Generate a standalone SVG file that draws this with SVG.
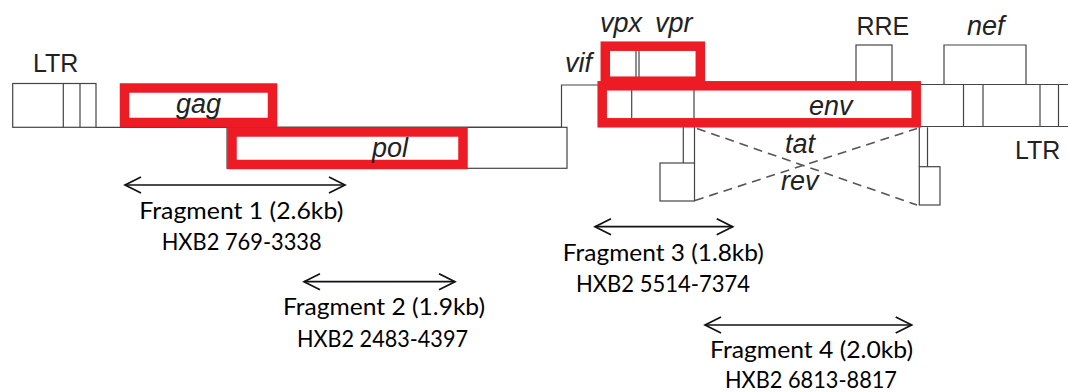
<svg xmlns="http://www.w3.org/2000/svg" width="1068" height="392" viewBox="0 0 1068 392">
  <style>
    .ln { fill: none; stroke: #444; stroke-width: 1.2; }
    .red { fill: none; stroke: #ED1C24; stroke-width: 9.5; }
    .gene { font-family: "Liberation Sans", Arial, sans-serif; font-size: 27px; font-style: italic; fill: #222; }
    .lbl { font-family: "Liberation Sans", Arial, sans-serif; font-size: 25px; fill: #222; }
    .frag { font-family: Lato, "Open Sans", sans-serif; font-size: 23px; fill: #000; text-anchor: middle; }
    .dash { fill: none; stroke: #555; stroke-width: 1.6; stroke-dasharray: 9 6; }
    .arr { fill: none; stroke: #111; stroke-width: 1.7; marker-start: url(#chev); marker-end: url(#chev); }
  </style>
  <defs>
    <marker id="chev" markerUnits="userSpaceOnUse" markerWidth="22" markerHeight="22" refX="17" refY="9" orient="auto-start-reverse">
      <path d="M1,1 L17,9 L1,17" fill="none" stroke="#111" stroke-width="1.7"/>
    </marker>
  </defs>
  <rect width="1068" height="392" fill="#fff"/>

  <g id="genome-backbone">
    <path class="ln" d="M96,127.3 H561"/>
  </g>

  <g id="ltr5">
    <rect class="ln" x="12.7" y="83.5" width="83.3" height="43.8"/>
    <path class="ln" d="M63.3,83.5 V127.3 M80,83.5 V127.3"/>
    <text class="lbl" x="33" y="71.7">LTR</text>
  </g>

  <g id="pol">
    <rect class="ln" x="227" y="127.3" width="340" height="41"/>
    <rect class="red" x="232" y="132" width="231" height="32.5"/>
    <text class="gene" x="372" y="156.5">pol</text>
  </g>

  <g id="gag">
    <rect class="red" x="124.5" y="88" width="148" height="34.5"/>
    <text class="gene" x="176" y="113.3">gag</text>
  </g>

  <g id="vif">
    <path class="ln" d="M561.5,127.3 V85 H600"/>
    <text class="gene" x="565" y="71.7">vif</text>
  </g>

  <g id="vpx-vpr">
    <path class="ln" d="M636,50 V78 M639,50 V78"/>
    <rect class="red" x="605.3" y="46.2" width="95" height="35"/>
    <text class="gene" x="600" y="31.7">vpx</text>
    <text class="gene" x="655" y="31.7">vpr</text>
  </g>

  <g id="rre">
    <rect class="ln" x="856" y="45" width="36" height="37"/>
    <text class="lbl" x="856.5" y="35">RRE</text>
  </g>

  <g id="env">
    <path class="ln" d="M631.7,88 V122 M694,88 V122"/>
    <rect class="red" x="602.2" y="85.8" width="314" height="37"/>
    <text class="gene" x="809" y="115">env</text>
  </g>

  <g id="tat-rev-exon1">
    <path class="ln" d="M683.3,127.3 V163 M694.5,127.3 V163"/>
    <rect class="ln" x="660" y="163" width="34.5" height="38"/>
  </g>

  <g id="tat-rev-exon2">
    <path class="ln" d="M919.3,127.3 V166.7 M927.5,127.3 V166.7"/>
    <rect class="ln" x="919.3" y="166.7" width="20.7" height="38.3"/>
  </g>

  <g id="nef">
    <path class="ln" d="M944,84.5 V45 H1026 V84.5"/>
    <text class="gene" x="967" y="35">nef</text>
  </g>

  <g id="ltr3">
    <path class="ln" d="M920.7,84.5 H1068 M920.7,126.5 H1068 M963.5,84.5 V126.5 M983,84.5 V126.5 M1040,84.5 V126.5 M1058.5,84.5 V126.5"/>
    <text class="lbl" x="1015" y="159.3">LTR</text>
  </g>

  <g id="tat-rev-labels">
    <text class="gene" x="785" y="153.3">tat</text>
    <text class="gene" x="781" y="190">rev</text>
  </g>

  <g id="connectors">
    <path class="dash" d="M697,128.5 L917,205"/>
    <path class="dash" d="M695,200.5 L917,128.5"/>
    <path class="arr" d="M125,185 H345"/>
    <path class="arr" d="M304,281.7 H455"/>
    <path class="arr" d="M595,226.7 H732.7"/>
    <path class="arr" d="M705,325 H911.7"/>
  </g>

  <g id="fragment1">
    <text class="frag" x="241.3" y="218.5" textLength="204" lengthAdjust="spacingAndGlyphs">Fragment 1 (2.6kb)</text>
    <text class="frag" x="241.7" y="250" textLength="160" lengthAdjust="spacingAndGlyphs">HXB2 769-3338</text>
  </g>
  <g id="fragment2">
    <text class="frag" x="384" y="315" textLength="202" lengthAdjust="spacingAndGlyphs">Fragment 2 (1.9kb)</text>
    <text class="frag" x="382.5" y="346.5" textLength="171" lengthAdjust="spacingAndGlyphs">HXB2 2483-4397</text>
  </g>
  <g id="fragment3">
    <text class="frag" x="663.3" y="260.5" textLength="201" lengthAdjust="spacingAndGlyphs">Fragment 3 (1.8kb)</text>
    <text class="frag" x="663" y="291.7" textLength="174" lengthAdjust="spacingAndGlyphs">HXB2 5514-7374</text>
  </g>
  <g id="fragment4">
    <text class="frag" x="811.5" y="358" textLength="203" lengthAdjust="spacingAndGlyphs">Fragment 4 (2.0kb)</text>
    <text class="frag" x="811" y="387.5" textLength="172" lengthAdjust="spacingAndGlyphs">HXB2 6813-8817</text>
  </g>
</svg>
